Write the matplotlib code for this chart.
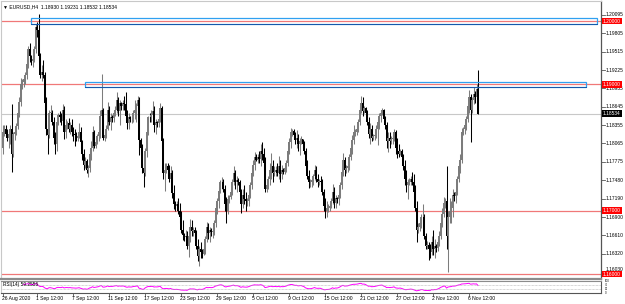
import numpy as np
import matplotlib
matplotlib.use("Agg")
import matplotlib.pyplot as plt
from matplotlib.patches import Rectangle
import matplotlib.transforms as mtransforms

# EURUSD H4 bars, 26 Aug 2020 16:00 -> 9 Nov 2020 12:00 (one row per day)
first_open = 1.1800
high = [
    1.1835, 1.1835,
    1.1836, 1.1830, 1.1828, 1.1836, 1.1869, 1.1825,
    1.1830, 1.1838, 1.1862, 1.1880, 1.1910, 1.1908,
    1.1912, 1.1920, 1.1940, 1.1960, 1.1966, 1.1946,
    1.1945, 1.1960, 1.1995, 1.1998, 1.2011, 1.1950,
    1.1930, 1.1939, 1.1920, 1.1880, 1.1835, 1.1860,
    1.1867, 1.1860, 1.1848, 1.1825, 1.1845, 1.1855,
    1.1858, 1.1855, 1.1869, 1.1866, 1.1845, 1.1842,
    1.1846, 1.1840, 1.1845, 1.1832, 1.1830, 1.1825,
    1.1822, 1.1838, 1.1832, 1.1812, 1.1798, 1.1785,
    1.1782, 1.1772, 1.1795, 1.1810, 1.1834, 1.1828,
    1.1812, 1.1822, 1.1830, 1.1860, 1.1917, 1.1862,
    1.1825, 1.1835, 1.1872, 1.1865, 1.1855, 1.1852,
    1.1860, 1.1865, 1.1888, 1.1880, 1.1875, 1.1872,
    1.1875, 1.1882, 1.1888, 1.1860, 1.1855, 1.1850,
    1.1852, 1.1860, 1.1875, 1.1870, 1.1882, 1.1880,
    1.1815, 1.1805, 1.1775, 1.1800, 1.1830, 1.1850,
    1.1855, 1.1860, 1.1873, 1.1865, 1.1845, 1.1842,
    1.1850, 1.1871, 1.1865, 1.1815, 1.1775, 1.1775,
    1.1775, 1.1772, 1.1770, 1.1765, 1.1740, 1.1715,
    1.1715, 1.1720, 1.1712, 1.1700, 1.1685, 1.1665,
    1.1670, 1.1668, 1.1665, 1.1687, 1.1685, 1.1675,
    1.1674, 1.1670, 1.1655, 1.1645, 1.1650, 1.1640,
    1.1645, 1.1660, 1.1682, 1.1680, 1.1675, 1.1672,
    1.1672, 1.1685, 1.1712, 1.1720, 1.1738, 1.1748,
    1.1754, 1.1750, 1.1740, 1.1722, 1.1725, 1.1725,
    1.1735, 1.1750, 1.1771, 1.1765, 1.1755, 1.1752,
    1.1749, 1.1735, 1.1735, 1.1740, 1.1730, 1.1720,
    1.1730, 1.1745, 1.1770, 1.1780, 1.1793, 1.1790,
    1.1790, 1.1795, 1.1805, 1.1809, 1.1800, 1.1785,
    1.1745, 1.1755, 1.1775, 1.1791, 1.1780, 1.1770,
    1.1770, 1.1775, 1.1787, 1.1780, 1.1772, 1.1768,
    1.1772, 1.1780, 1.1800, 1.1815, 1.1831, 1.1830,
    1.1830, 1.1825, 1.1828, 1.1822, 1.1815, 1.1818,
    1.1814, 1.1810, 1.1800, 1.1780, 1.1765, 1.1750,
    1.1752, 1.1758, 1.1772, 1.1770, 1.1758, 1.1750,
    1.1755, 1.1750, 1.1735, 1.1720, 1.1715, 1.1710,
    1.1712, 1.1720, 1.1743, 1.1738, 1.1725, 1.1722,
    1.1730, 1.1745, 1.1770, 1.1791, 1.1785, 1.1772,
    1.1775, 1.1790, 1.1805, 1.1820, 1.1836, 1.1830,
    1.1835, 1.1845, 1.1865, 1.1881, 1.1880, 1.1865,
    1.1864, 1.1860, 1.1848, 1.1838, 1.1835, 1.1822,
    1.1825, 1.1835, 1.1845, 1.1855, 1.1860, 1.1862,
    1.1861, 1.1850, 1.1840, 1.1825, 1.1825, 1.1818,
    1.1820, 1.1830, 1.1828, 1.1815, 1.1805, 1.1798,
    1.1797, 1.1790, 1.1780, 1.1765, 1.1750, 1.1752,
    1.1755, 1.1761, 1.1758, 1.1740, 1.1715, 1.1680,
    1.1685, 1.1695, 1.1711, 1.1695, 1.1665, 1.1652,
    1.1650, 1.1648, 1.1660, 1.1670, 1.1655, 1.1648,
    1.1655, 1.1668, 1.1690, 1.1705, 1.1721, 1.1720,
    1.1770, 1.1700, 1.1720, 1.1715, 1.1735, 1.1730,
    1.1735, 1.1755, 1.1775, 1.1790, 1.1831, 1.1832,
    1.1840, 1.1850, 1.1870, 1.1891, 1.1885, 1.1880,
    1.1895, 1.1890, 1.1900, 1.19231,
]
low = [
    1.1790, 1.1818,
    1.1818, 1.1810, 1.1800, 1.1805, 1.1762, 1.1785,
    1.1812, 1.1820, 1.1830, 1.1848, 1.1865, 1.1892,
    1.1895, 1.1900, 1.1908, 1.1925, 1.1935, 1.1930,
    1.1928, 1.1935, 1.1950, 1.1975, 1.1935, 1.1910,
    1.1905, 1.1910, 1.1860, 1.1820, 1.1789, 1.1815,
    1.1845, 1.1835, 1.1805, 1.1790, 1.1795, 1.1835,
    1.1840, 1.1835, 1.1835, 1.1813, 1.1815, 1.1830,
    1.1825, 1.1822, 1.1818, 1.1810, 1.1803, 1.1810,
    1.1810, 1.1815, 1.1800, 1.1780, 1.1765, 1.1768,
    1.1760, 1.1753, 1.1762, 1.1780, 1.1795, 1.1800,
    1.1800, 1.1805, 1.1810, 1.1815, 1.1845, 1.1812,
    1.1811, 1.1815, 1.1828, 1.1835, 1.1828, 1.1840,
    1.1840, 1.1850, 1.1855, 1.1850, 1.1836, 1.1860,
    1.1860, 1.1860, 1.1840, 1.1829, 1.1830, 1.1840,
    1.1838, 1.1840, 1.1845, 1.1840, 1.1850, 1.1788,
    1.1790, 1.1760, 1.1737, 1.1755, 1.1785, 1.1820,
    1.1840, 1.1840, 1.1845, 1.1825, 1.1821, 1.1832,
    1.1832, 1.1840, 1.1800, 1.1750, 1.1731, 1.1760,
    1.1755, 1.1745, 1.1735, 1.1720, 1.1702, 1.1700,
    1.1700, 1.1695, 1.1680, 1.1665, 1.1653, 1.1652,
    1.1650, 1.1640, 1.1627, 1.1650, 1.1660, 1.1660,
    1.1655, 1.1640, 1.1620, 1.1612, 1.1625, 1.1625,
    1.1630, 1.1632, 1.1650, 1.1655, 1.1650, 1.1660,
    1.1657, 1.1662, 1.1675, 1.1695, 1.1705, 1.1728,
    1.1735, 1.1730, 1.1700, 1.1681, 1.1695, 1.1712,
    1.1718, 1.1725, 1.1740, 1.1735, 1.1730, 1.1740,
    1.1725, 1.1696, 1.1705, 1.1710, 1.1700, 1.1708,
    1.1708, 1.1720, 1.1735, 1.1755, 1.1765, 1.1778,
    1.1775, 1.1775, 1.1770, 1.1780, 1.1763, 1.1730,
    1.1730, 1.1734, 1.1740, 1.1750, 1.1745, 1.1755,
    1.1755, 1.1755, 1.1750, 1.1745, 1.1750, 1.1758,
    1.1758, 1.1762, 1.1770, 1.1790, 1.1800, 1.1818,
    1.1815, 1.1805, 1.1800, 1.1795, 1.1788, 1.1806,
    1.1800, 1.1790, 1.1765, 1.1750, 1.1736, 1.1738,
    1.1738, 1.1740, 1.1748, 1.1745, 1.1738, 1.1740,
    1.1740, 1.1725, 1.1700, 1.1688, 1.1690, 1.1698,
    1.1700, 1.1704, 1.1710, 1.1705, 1.1705, 1.1712,
    1.1709, 1.1720, 1.1735, 1.1755, 1.1755, 1.1760,
    1.1761, 1.1765, 1.1780, 1.1790, 1.1805, 1.1818,
    1.1820, 1.1825, 1.1835, 1.1855, 1.1850, 1.1855,
    1.1850, 1.1835, 1.1815, 1.1806, 1.1810, 1.1812,
    1.1812, 1.1815, 1.1804, 1.1830, 1.1840, 1.1852,
    1.1840, 1.1830, 1.1800, 1.1793, 1.1800, 1.1806,
    1.1805, 1.1810, 1.1790, 1.1784, 1.1785, 1.1788,
    1.1780, 1.1765, 1.1740, 1.1730, 1.1718, 1.1740,
    1.1740, 1.1740, 1.1720, 1.1700, 1.1650, 1.1665,
    1.1668, 1.1672, 1.1680, 1.1655, 1.1640, 1.1640,
    1.1622, 1.1625, 1.1630, 1.1630, 1.1625, 1.1635,
    1.1637, 1.1645, 1.1655, 1.1675, 1.1690, 1.1705,
    1.1640, 1.1603, 1.1680, 1.1680, 1.1690, 1.1715,
    1.1712, 1.1725, 1.1745, 1.1760, 1.1775, 1.1820,
    1.1822, 1.1828, 1.1840, 1.1855, 1.1808, 1.1855,
    1.1868, 1.1870, 1.1875, 1.18532,
]
close = [
    1.1825, 1.1830,
    1.1822, 1.1815, 1.1822, 1.1830, 1.1790, 1.1821,
    1.1825, 1.1834, 1.1855, 1.1872, 1.1900, 1.1903,
    1.1908, 1.1915, 1.1932, 1.1955, 1.1945, 1.1936,
    1.1940, 1.1955, 1.1990, 1.1985, 1.1945, 1.1914,
    1.1920, 1.1915, 1.1870, 1.1830, 1.1820, 1.1855,
    1.1855, 1.1840, 1.1815, 1.1805, 1.1840, 1.1851,
    1.1848, 1.1842, 1.1860, 1.1825, 1.1835, 1.1838,
    1.1830, 1.1835, 1.1825, 1.1822, 1.1820, 1.1815,
    1.1818, 1.1825, 1.1808, 1.1790, 1.1772, 1.1778,
    1.1765, 1.1768, 1.1790, 1.1800, 1.1825, 1.1802,
    1.1808, 1.1818, 1.1825, 1.1850, 1.1860, 1.1815,
    1.1820, 1.1830, 1.1860, 1.1840, 1.1848, 1.1846,
    1.1855, 1.1860, 1.1875, 1.1858, 1.1870, 1.1866,
    1.1870, 1.1868, 1.1850, 1.1838, 1.1848, 1.1845,
    1.1845, 1.1855, 1.1860, 1.1865, 1.1875, 1.1812,
    1.1800, 1.1768, 1.1760, 1.1795, 1.1825, 1.1849,
    1.1848, 1.1852, 1.1858, 1.1835, 1.1840, 1.1838,
    1.1845, 1.1862, 1.1810, 1.1760, 1.1765, 1.1771,
    1.1765, 1.1750, 1.1760, 1.1728, 1.1710, 1.1707,
    1.1710, 1.1700, 1.1690, 1.1670, 1.1662, 1.1658,
    1.1660, 1.1645, 1.1660, 1.1675, 1.1668, 1.1670,
    1.1665, 1.1645, 1.1628, 1.1640, 1.1635, 1.1632,
    1.1640, 1.1655, 1.1675, 1.1665, 1.1670, 1.1666,
    1.1668, 1.1680, 1.1705, 1.1715, 1.1732, 1.1745,
    1.1745, 1.1735, 1.1710, 1.1700, 1.1718, 1.1721,
    1.1730, 1.1745, 1.1760, 1.1745, 1.1748, 1.1746,
    1.1730, 1.1710, 1.1725, 1.1718, 1.1715, 1.1715,
    1.1725, 1.1740, 1.1760, 1.1772, 1.1785, 1.1781,
    1.1785, 1.1782, 1.1795, 1.1790, 1.1775, 1.1734,
    1.1740, 1.1750, 1.1765, 1.1770, 1.1760, 1.1762,
    1.1765, 1.1760, 1.1770, 1.1758, 1.1765, 1.1762,
    1.1768, 1.1775, 1.1795, 1.1808, 1.1825, 1.1826,
    1.1820, 1.1812, 1.1815, 1.1805, 1.1810, 1.1813,
    1.1805, 1.1795, 1.1770, 1.1755, 1.1745, 1.1745,
    1.1748, 1.1755, 1.1765, 1.1750, 1.1745, 1.1747,
    1.1745, 1.1730, 1.1708, 1.1700, 1.1705, 1.1705,
    1.1708, 1.1715, 1.1730, 1.1712, 1.1720, 1.1718,
    1.1725, 1.1740, 1.1762, 1.1780, 1.1765, 1.1767,
    1.1770, 1.1785, 1.1800, 1.1812, 1.1825, 1.1825,
    1.1830, 1.1840, 1.1860, 1.1870, 1.1858, 1.1862,
    1.1855, 1.1840, 1.1822, 1.1830, 1.1815, 1.1818,
    1.1820, 1.1830, 1.1840, 1.1850, 1.1855, 1.1860,
    1.1845, 1.1835, 1.1810, 1.1815, 1.1810, 1.1813,
    1.1815, 1.1825, 1.1800, 1.1795, 1.1790, 1.1794,
    1.1785, 1.1770, 1.1750, 1.1740, 1.1745, 1.1746,
    1.1750, 1.1745, 1.1730, 1.1705, 1.1670, 1.1675,
    1.1680, 1.1690, 1.1690, 1.1660, 1.1645, 1.1646,
    1.1640, 1.1635, 1.1650, 1.1640, 1.1645, 1.1641,
    1.1650, 1.1660, 1.1680, 1.1695, 1.1712, 1.1716,
    1.1660, 1.1690, 1.1700, 1.1705, 1.1725, 1.1723,
    1.1730, 1.1750, 1.1770, 1.1780, 1.1825, 1.1830,
    1.1835, 1.1845, 1.1865, 1.1880, 1.1860, 1.1875,
    1.1885, 1.1880, 1.18930, 1.18534,
]

time_labels = ["26 Aug 2020", "1 Sep 12:00", "7 Sep 12:00", "11 Sep 12:00",
               "17 Sep 12:00", "23 Sep 12:00", "29 Sep 12:00", "5 Oct 12:00",
               "9 Oct 12:00", "15 Oct 12:00", "21 Oct 12:00", "27 Oct 12:00",
               "2 Nov 12:00", "6 Nov 12:00"]
time_label_bars = [0, 23, 47, 71, 95, 119, 143, 167, 191, 215, 239, 263, 287, 311]

price_ticks = [1.20095, 1.19805, 1.19515, 1.19225, 1.18935, 1.18645, 1.18355,
               1.18065, 1.17775, 1.17480, 1.17190, 1.16900, 1.16610, 1.16320,
               1.16030]
level_lines = [1.20000, 1.19000, 1.17000, 1.16000]
bid = 1.18534

zone_start = [19, 55]
zone_end = [396, 389]
zone_low = [1.19950, 1.18950]
zone_high = [1.20048, 1.19036]

header = "EURUSD,H4  1.18930 1.19231 1.18532 1.18534"
rsi_label = "RSI(14) 59.2556"

# ---- prep ----
high = np.array(high)
low = np.array(low)
close = np.array(close)
opens = np.concatenate([[first_open], close[:-1]])
x = np.arange(len(close))

# RSI(14), Wilder smoothing
delta = np.diff(close)
gain = np.clip(delta, 0, None)
loss = np.clip(-delta, 0, None)
rsi = np.full(len(close), np.nan)
ag, al = gain[:14].mean(), loss[:14].mean()
rsi[14] = 100 - 100 / (1 + ag / al)
for i in range(14, len(delta)):
    ag = (ag * 13 + gain[i]) / 14
    al = (al * 13 + loss[i]) / 14
    rsi[i + 1] = 100 - 100 / (1 + ag / al)

W, H = 625, 304
fig = plt.figure(figsize=(W / 100, H / 100), dpi=100)
fig.patch.set_facecolor("white")
plt.rcParams["font.family"] = ["Liberation Sans", "DejaVu Sans"]

def px_rect(l, t, r, b):
    return [l / W, 1 - b / H, (r - l) / W, (b - t) / H]

ax = fig.add_axes(px_rect(1, 1, 601, 279))
rx = fig.add_axes(px_rect(1, 281, 601, 293))

px_per_bar = 1.5
x0 = -1.5 / px_per_bar
x1 = x0 + 600 / px_per_bar
ymax = 1.20095 + 14 / 6325
ymin = 1.20095 - 264 / 6325

# candles
up = close >= opens
col = np.where(up, "#7c7c7c", "#000000")
ax.vlines(x, low, high, colors=col, linewidth=0.75, zorder=3)
body = np.maximum(np.abs(close - opens), 0.00004)
ax.bar(x, body, bottom=np.minimum(opens, close), width=0.9, color=col,
       linewidth=0, zorder=3)

# horizontal levels and bid line
for lv in level_lines:
    ax.axhline(lv, color="#f07878", linewidth=0.9, zorder=2)
ax.axhline(bid, color="#c8c8c8", linewidth=0.8, zorder=1)

# zones (rectangles)
for s, e, lo, hi in zip(zone_start, zone_end, zone_low, zone_high):
    ax.add_patch(Rectangle((s, lo), e - s, hi - lo, fill=False,
                           edgecolor="#30a0f0", linewidth=0.9, zorder=4))
    ax.plot([s, e], [lo, lo], color="#1656a8", linewidth=0.7, zorder=4)

ax.set_xlim(x0, x1)
ax.set_ylim(ymin, ymax)
ax.set_xticks([])
ax.set_yticks([])
for side in ["top", "left"]:
    ax.spines[side].set_color("#c8c8c8")
    ax.spines[side].set_linewidth(0.8)
ax.spines["right"].set_color("#555555")
ax.spines["right"].set_linewidth(0.9)
ax.spines["bottom"].set_color("#8c8c8c")
ax.spines["bottom"].set_linewidth(1.6)

ax.text(0.004, 0.988, "\u25bc " + header, transform=ax.transAxes,
        fontsize=3.6, va="top", ha="left", color="black")

# right price scale
tr = mtransforms.blended_transform_factory(ax.transAxes, ax.transData)
for p in price_ticks:
    ax.plot([1.0, 1.006], [p, p], color="#555555", linewidth=0.6,
            transform=tr, clip_on=False)
    # lowest label sits just above the 1.16000 marker
    dy = 0.00035 if p == price_ticks[-1] else 0.0
    ax.text(1.007, p + dy, f"{p:.5f}", transform=tr, fontsize=3.5,
            va="center", ha="left", color="black", clip_on=False)
for lv in level_lines:
    ax.text(1.003, lv, f"{lv:.5f}", transform=tr, fontsize=3.5, va="center",
            ha="left", color="white", clip_on=False,
            bbox=dict(boxstyle="square,pad=0.2", fc="#ff0000", ec="none"))
ax.text(1.003, bid, f"{bid:.5f}", transform=tr, fontsize=3.5, va="center",
        ha="left", color="white", clip_on=False,
        bbox=dict(boxstyle="square,pad=0.2", fc="#000000", ec="none"))

# RSI panel
rx.plot(x, rsi, color="#ff00ff", linewidth=0.7)
for lv in [70, 30]:
    rx.axhline(lv, color="#b0b0b0", linewidth=0.5, linestyle=(0, (1, 1)))
rx.set_xlim(x0, x1)
rx.set_ylim(0, 100)
rx.set_xticks([])
rx.set_yticks([])
rx.spines["top"].set_color("#8c8c8c")
rx.spines["top"].set_linewidth(1.6)
rx.spines["left"].set_color("#c8c8c8")
rx.spines["right"].set_color("#555555")
rx.spines["bottom"].set_color("#555555")
for s in rx.spines.values():
    s.set_linewidth(0.8)
rx.text(0.004, 0.93, rsi_label, transform=rx.transAxes, fontsize=3.4,
        va="top", ha="left", color="black")
rtr = mtransforms.blended_transform_factory(rx.transAxes, rx.transData)
for lv in [100, 70, 30, 0]:
    rx.text(1.007, lv, str(lv), transform=rtr, fontsize=2.0, va="center",
            ha="left", clip_on=False)

# time axis labels
btr = mtransforms.blended_transform_factory(rx.transData, rx.transAxes)
for b, lab in zip(time_label_bars, time_labels):
    rx.plot([b, b], [0.0, -0.25], color="#555555", linewidth=0.6,
            transform=btr, clip_on=False)
    rx.text(b - 0.6, -0.42, lab, transform=btr, fontsize=3.6, va="center",
            ha="left", clip_on=False)

fig.savefig("out.png", dpi=100)
